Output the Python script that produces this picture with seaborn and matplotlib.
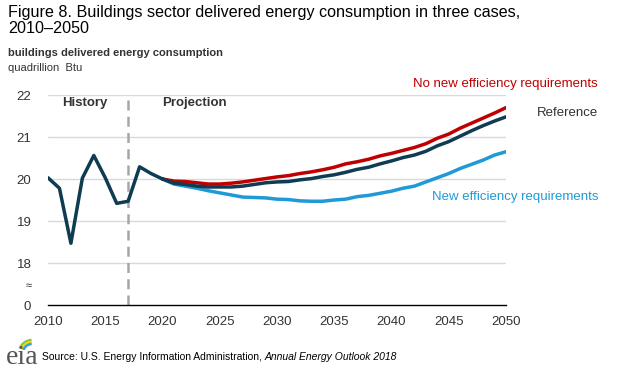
import numpy as np
import pandas as pd
import matplotlib
matplotlib.use("Agg")
import matplotlib.pyplot as plt
import seaborn as sns
from matplotlib.patches import Arc

years_hist = [2010, 2011, 2012, 2013, 2014, 2015, 2016, 2017, 2018, 2019, 2020]
hist = [20.03, 19.78, 18.47, 20.02, 20.56, 20.03, 19.42, 19.47, 20.29, 20.13, 20.00]

years_proj = list(range(2020, 2051))
reference = [20.00, 19.90, 19.87, 19.83, 19.81, 19.81, 19.81, 19.83, 19.87, 19.91,
             19.93, 19.94, 19.98, 20.01, 20.06, 20.10, 20.16, 20.23, 20.28, 20.36,
             20.43, 20.51, 20.57, 20.66, 20.79, 20.89, 21.02, 21.15, 21.27, 21.38, 21.48]
no_new = [20.00, 19.95, 19.94, 19.91, 19.88, 19.88, 19.90, 19.93, 19.97, 20.01,
          20.05, 20.08, 20.13, 20.17, 20.22, 20.28, 20.36, 20.41, 20.47, 20.55,
          20.61, 20.68, 20.75, 20.84, 20.97, 21.07, 21.21, 21.33, 21.45, 21.57, 21.70]
new_eff = [20.00, 19.88, 19.83, 19.78, 19.72, 19.67, 19.62, 19.57, 19.56, 19.55,
           19.52, 19.51, 19.48, 19.47, 19.47, 19.50, 19.52, 19.58, 19.61, 19.66,
           19.71, 19.78, 19.83, 19.93, 20.03, 20.13, 20.25, 20.35, 20.45, 20.57, 20.65]

ytick_vals = [17, 18, 19, 20, 21, 22]
ytick_labels = ["0", "18", "19", "20", "21", "22"]
xtick_vals = [2010, 2015, 2020, 2025, 2030, 2035, 2040, 2045, 2050]

C_RED = "#c00000"
C_NAVY = "#0f3b53"
C_BLUE = "#1f9ad6"
C_TXT = "#333333"

sns.set_style("white")
plt.rcParams["font.family"] = ["Liberation Sans", "DejaVu Sans"]

fig = plt.figure(figsize=(6.3, 3.74), dpi=100)
ax = fig.add_axes([48/630, 1-305/374, (506-48)/630, (305-95)/374])

df_proj = pd.DataFrame({"year": years_proj, "no_new": no_new,
                        "reference": reference, "new_eff": new_eff})
df_hist = pd.DataFrame({"year": years_hist, "value": hist})

for yv in [18, 19, 20, 21, 22]:
    ax.axhline(yv, color="#d9d9d9", lw=1, zorder=0)

sns.lineplot(data=df_proj, x="year", y="new_eff", color=C_BLUE, lw=2.5, ax=ax)
sns.lineplot(data=df_proj, x="year", y="no_new", color=C_RED, lw=2.5, ax=ax)
sns.lineplot(data=df_proj, x="year", y="reference", color=C_NAVY, lw=2.5, ax=ax)
sns.lineplot(data=df_hist, x="year", y="value", color=C_NAVY, lw=2.5, ax=ax)

ax.axvline(2017, color="#a6a6a6", lw=1.8, ls=(0, (4, 2.5)), zorder=1)

ax.set_xlim(2010, 2050)
ax.set_ylim(17, 22)
ax.set_xticks(xtick_vals)
ax.set_yticks(ytick_vals)
ax.set_yticklabels(ytick_labels)
ax.set_xlabel("")
ax.set_ylabel("")
for s in ["top", "right", "left"]:
    ax.spines[s].set_visible(False)
ax.spines["bottom"].set_color("black")
ax.spines["bottom"].set_linewidth(1)
ax.tick_params(axis="x", direction="out", length=5, width=1, color="black",
               labelsize=9.5, labelcolor=C_TXT, pad=3)
ax.tick_params(axis="y", length=0, labelsize=9.5, labelcolor=C_TXT, pad=12)

ax.annotate("≈", xy=(0, 17.45), xycoords=("axes fraction", "data"),
            xytext=(-14, 0), textcoords="offset points", fontsize=8,
            color=C_TXT, ha="center", va="center")

ax.text(2013.2, 21.8, "History", fontsize=9.5, fontweight="bold",
        color=C_TXT, ha="center", va="center")
ax.text(2020.0, 21.8, "Projection", fontsize=9.5, fontweight="bold",
        color=C_TXT, ha="left", va="center")

fig.text(598/630, 1-84/374, "No new efficiency requirements", color=C_RED,
         fontsize=9.5, ha="right", va="center")
fig.text(598/630, 1-113/374, "Reference", color=C_TXT,
         fontsize=9.5, ha="right", va="center")
fig.text(598/630, 1-197/374, "New efficiency requirements", color=C_BLUE,
         fontsize=9.5, ha="right", va="center")

fig.text(8/630, 1-5/374, "Figure 8. Buildings sector delivered energy consumption in three cases,\n2010\u20132050",
         fontsize=11.6, color="black", ha="left", va="top", linespacing=1.12)
fig.text(8/630, 1-53/374, "buildings delivered energy consumption", fontsize=8.0,
         fontweight="bold", color=C_TXT, ha="left", va="center")
fig.text(8/630, 1-68/374, "quadrillion  Btu", fontsize=8.0, color=C_TXT,
         ha="left", va="center")

# eia logo
fig.text(6/630, 1-357/374, "eia", fontsize=20, family="Liberation Serif",
         color="#555555", ha="left", va="center")
lax = fig.add_axes([10/630, 1-350/374, 28/630, 14/374])
lax.set_xlim(0, 28); lax.set_ylim(0, 14); lax.axis("off")
for r, c in [(13, "#8cc63f"), (11, "#f7d117"), (9, "#29a8e0")]:
    lax.add_patch(Arc((22, -3), 2*r, 2*r, theta1=92, theta2=160, color=c, lw=1.8))

t1 = fig.text(42/630, 1-357/374, "Source: U.S. Energy Information Administration, ",
              fontsize=7.5, color="black", ha="left", va="center")
fig.canvas.draw()
bb = t1.get_window_extent()
fig.text(bb.x1/630, 1-357/374, "Annual Energy Outlook 2018", fontsize=7.5,
         style="italic", color="black", ha="left", va="center")

fig.savefig("out.png", dpi=100)
